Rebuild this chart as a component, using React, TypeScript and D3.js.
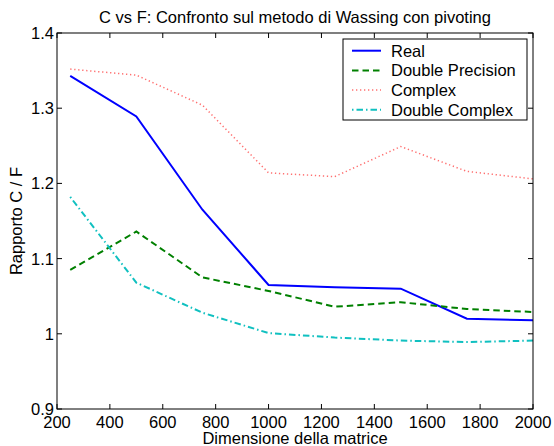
import React from "react";
import * as d3 from "d3";

const sizes = [250, 500, 750, 1000, 1250, 1500, 1750, 2000];
const realVals = [1.343, 1.289, 1.165, 1.065, 1.062, 1.060, 1.020, 1.018];
const doublePrecisionVals = [1.085, 1.136, 1.075, 1.057, 1.036, 1.042, 1.033, 1.029];
const complexVals = [1.352, 1.344, 1.304, 1.214, 1.209, 1.249, 1.216, 1.206];
const doubleComplexVals = [1.182, 1.068, 1.028, 1.001, 0.995, 0.991, 0.989, 0.991];
const xTicks = [200, 400, 600, 800, 1000, 1200, 1400, 1600, 1800, 2000];
const yTicks = [0.9, 1.0, 1.1, 1.2, 1.3, 1.4];
const yTickLabels = ["0.9", "1", "1.1", "1.2", "1.3", "1.4"];
const seriesNames = ["Real", "Double Precision", "Complex", "Double Complex"];

const W = 554, H = 446;
const L = 57, R = 533, T = 33, B = 409;
const FONT = "'Liberation Sans', Arial, Helvetica, sans-serif";
const FS = 16.5;

export default function App() {
  const x = d3.scaleLinear().domain([200, 2000]).range([L, R]);
  const y = d3.scaleLinear().domain([0.9, 1.4]).range([B, T]);
  const line = d3
    .line<number>()
    .x((_, i) => x(sizes[i]))
    .y((v) => y(v));

  const styles = [
    { color: "#0000ff", width: 2, dash: undefined as string | undefined },
    { color: "#008000", width: 2, dash: "6.5,4" },
    { color: "#ff7070", width: 1.5, dash: "1.3,2.7" },
    { color: "#10c0c0", width: 2, dash: "1.5,3,6.5,3" },
  ];
  const data = [realVals, doublePrecisionVals, complexVals, doubleComplexVals];
  const tickLen = 5;

  const legL = 343, legR = 527, legT = 39, legB = 120;
  const rowH = 19.7;
  const row0 = 50.7;

  return (
    <svg
      width={W}
      height={H}
      style={{ position: "absolute", left: 0, top: 0, background: "#fff" }}
      fontFamily={FONT}
    >
      <rect x={0} y={0} width={W} height={H} fill="#fff" />
      <defs>
        <clipPath id="clip">
          <rect x={L} y={T} width={R - L} height={B - T} />
        </clipPath>
      </defs>
      <g clipPath="url(#clip)">
        {data.map((vals, i) => (
          <path
            key={i}
            d={line(vals) || ""}
            fill="none"
            stroke={styles[i].color}
            strokeWidth={styles[i].width}
            strokeDasharray={styles[i].dash}
          />
        ))}
      </g>
      <rect x={L} y={T} width={R - L} height={B - T} fill="none" stroke="#000" strokeWidth={1} />
      {xTicks.map((t) => (
        <g key={"x" + t}>
          <line x1={x(t)} x2={x(t)} y1={B} y2={B - tickLen} stroke="#000" />
          <line x1={x(t)} x2={x(t)} y1={T} y2={T + tickLen} stroke="#000" />
          <text x={x(t)} y={427.5} textAnchor="middle" fontSize={FS} fill="#000">
            {t}
          </text>
        </g>
      ))}
      {yTicks.map((t, i) => (
        <g key={"y" + t}>
          <line x1={L} x2={L + tickLen} y1={y(t)} y2={y(t)} stroke="#000" />
          <line x1={R} x2={R - tickLen} y1={y(t)} y2={y(t)} stroke="#000" />
          <text x={L - 3} y={y(t) + 6} textAnchor="end" fontSize={FS} fill="#000">
            {yTickLabels[i]}
          </text>
        </g>
      ))}
      <text x={(L + R) / 2} y={23} textAnchor="middle" fontSize={FS} fill="#000">
        C vs F: Confronto sul metodo di Wassing con pivoting
      </text>
      <text x={(L + R) / 2} y={444} textAnchor="middle" fontSize={FS} fill="#000">
        Dimensione della matrice
      </text>
      <text
        transform={`translate(${22},${(T + B) / 2}) rotate(-90)`}
        textAnchor="middle"
        fontSize={FS}
        fill="#000"
      >
        Rapporto C / F
      </text>
      <rect x={legL} y={legT} width={legR - legL} height={legB - legT} fill="#fff" stroke="#000" strokeWidth={1} />
      {seriesNames.map((name, i) => {
        const cy = row0 + i * rowH;
        return (
          <g key={name}>
            <line
              x1={352}
              x2={381}
              y1={cy}
              y2={cy}
              stroke={styles[i].color}
              strokeWidth={styles[i].width}
              strokeDasharray={styles[i].dash}
            />
            <text x={391} y={cy + 6} fontSize={FS} fill="#000">
              {name}
            </text>
          </g>
        );
      })}
    </svg>
  );
}
